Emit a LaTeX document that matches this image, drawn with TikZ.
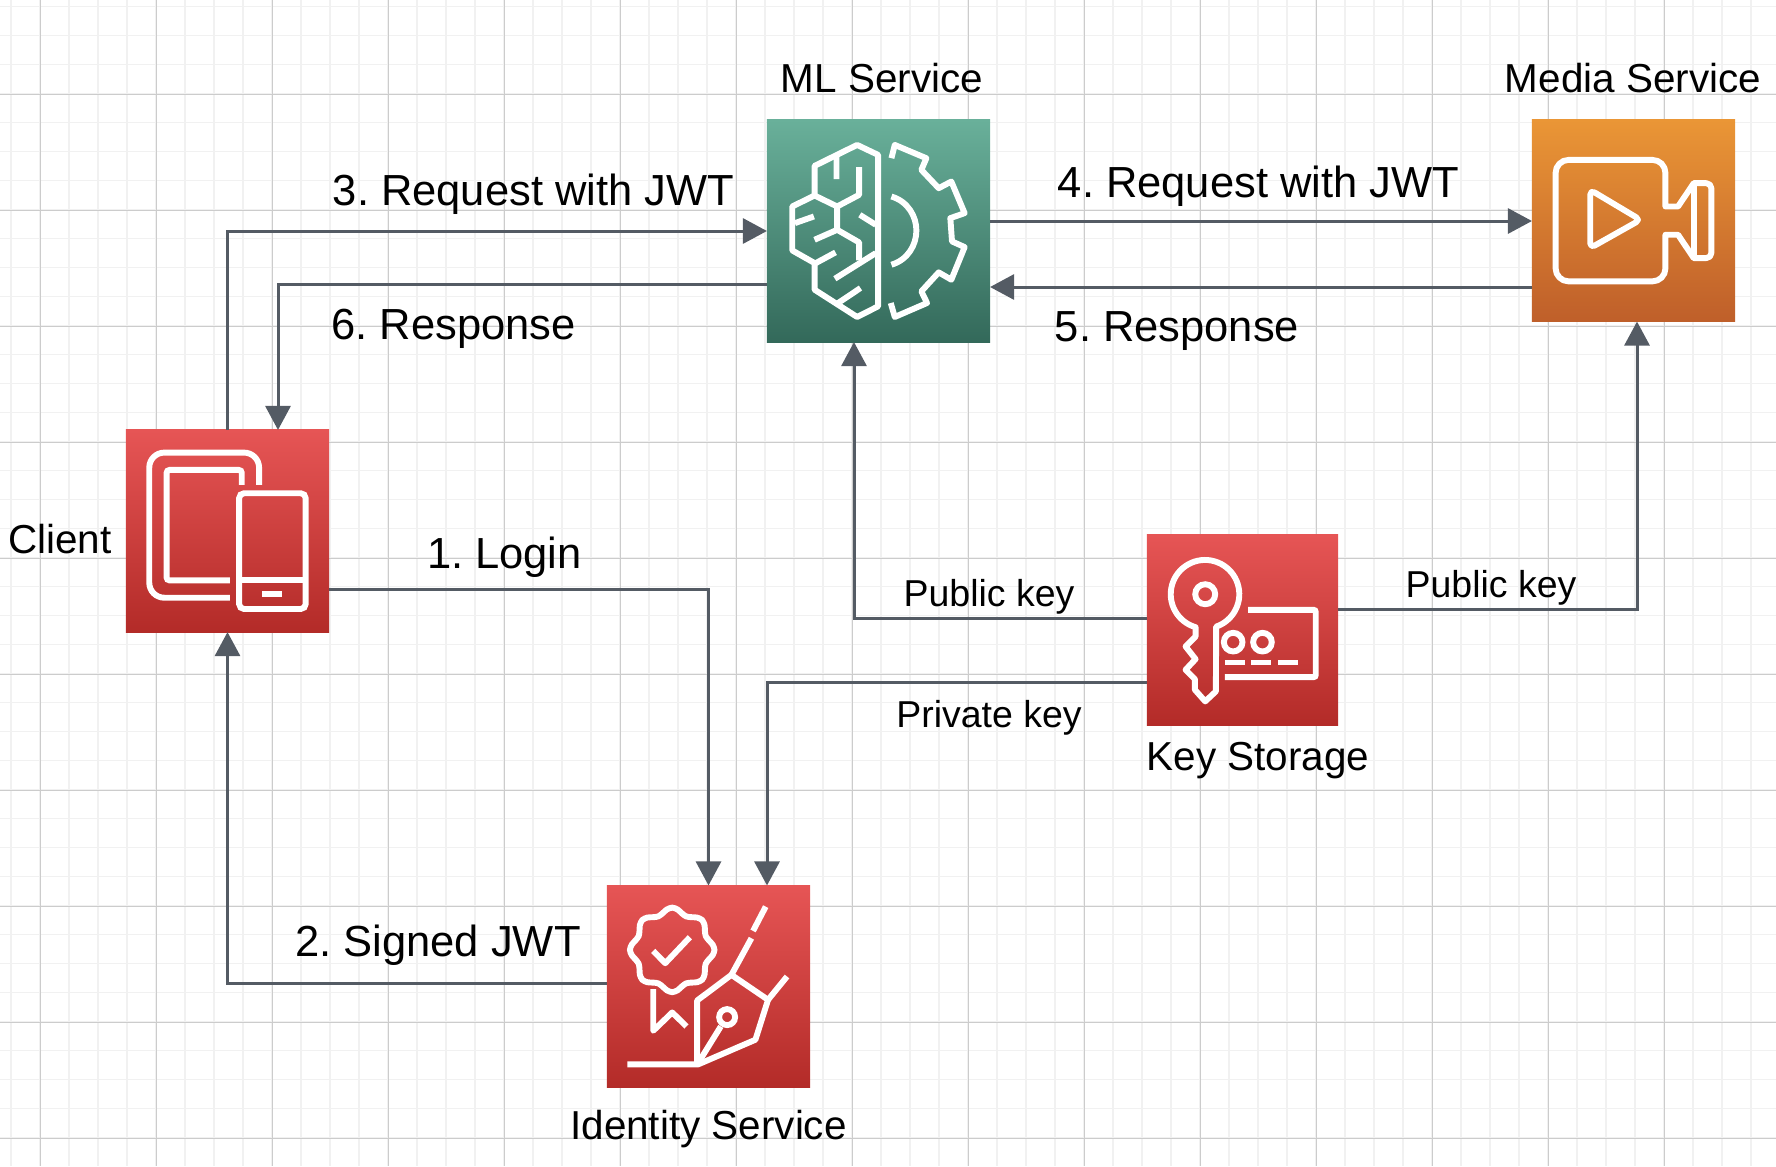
\documentclass[tikz,border=0pt]{standalone}
\usepackage{fontspec}
\setmainfont{Liberation Sans}
\usetikzlibrary{arrows.meta,calc}
\frenchspacing

\definecolor{gridminor}{HTML}{F1F1F1}
\definecolor{gridmajor}{HTML}{CCCCCC}
\definecolor{flowgray}{HTML}{545B64}
\definecolor{RedTop}{HTML}{E65555}
\definecolor{RedBottom}{HTML}{B32B28}
\definecolor{MlTop}{HTML}{69B09A}
\definecolor{MlBottom}{HTML}{33695A}
\definecolor{MediaTop}{HTML}{EA9636}
\definecolor{MediaBottom}{HTML}{BF5F2A}

\tikzset{
  service/.style={inner sep=0pt, outer sep=0pt},
  redbox/.style={service, top color=RedTop, bottom color=RedBottom},
  flowline/.style={draw=flowgray, line width=0.03cm, -{Triangle[length=0.24cm,width=0.25cm]}},
  glyph/.style={draw=white, line width=0.059cm},
  biglabel/.style={anchor=base, font=\fontsize{12.37}{15}\selectfont},
  namelabel/.style={anchor=base, font=\fontsize{11.5}{14}\selectfont},
  keylabel/.style={anchor=base, font=\fontsize{10.65}{13}\selectfont}
}

\begin{document}
\begin{tikzpicture}[x=0.01cm,y=-0.01cm]
\useasboundingbox (0,0) rectangle (1776,1166);

% paper grid
\foreach \gx in {11,40,...,1776} \draw[gridminor, line width=0.017cm] (\gx,0) -- (\gx,1166);
\foreach \gy in {6.5,35.5,...,1166} \draw[gridminor, line width=0.017cm] (0,\gy) -- (1776,\gy);
\foreach \gx in {40.5,156.5,...,1776} \draw[gridmajor, line width=0.011cm] (\gx,0) -- (\gx,1166);
\foreach \gy in {94.5,210.5,...,1166} \draw[gridmajor, line width=0.011cm] (0,\gy) -- (1776,\gy);

% services
\node[redbox, minimum width=2.03cm, minimum height=2.02cm] (client) at (227.5,531) {};
\node[service, top color=MlTop, bottom color=MlBottom, minimum width=2.23cm, minimum height=2.22cm] (ml) at (878.5,231) {};
\node[service, top color=MediaTop, bottom color=MediaBottom, minimum width=2.03cm, minimum height=2.02cm] (media) at (1633.5,220.5) {};
\node[redbox, minimum width=1.91cm, minimum height=1.90cm] (keys) at (1242.5,630) {};
\node[redbox, minimum width=2.03cm, minimum height=2.02cm] (identity) at (708.5,986.5) {};

% client icon
\begin{scope}[shift={(110,410)},x=0.00333cm,y=-0.00333cm]
\draw[glyph, rounded corners=0.15cm] (448,225) -- (448,128) -- (118,128) -- (118,564) -- (360,564);
\draw[glyph, rounded corners=0.03cm] (396,225) -- (396,180) -- (170,180) -- (170,512) -- (360,512);
\draw[glyph, rounded corners=0.05cm] (388,250) rectangle (588,598);
\draw[glyph] (388,510) -- (588,510) (458,554) -- (517,554);
\end{scope}

% ml icon
\begin{scope}[shift={(740,90)},x=0.00333cm,y=-0.00333cm]
\draw[glyph, line join=round] (415,195) -- (352,165) -- (224,228) -- (224,317) -- (157,350) -- (157,482) -- (224,520) -- (224,600) -- (352,682) -- (415,650) -- cycle;
\draw[glyph, line join=round] (290,200) -- (290,268) (358,232) -- (358,315) -- (292,350) -- (224,317) (292,350) -- (292,420);
\draw[glyph, line join=round] (224,450) -- (292,420) -- (358,458) -- (358,512);
\draw[glyph] (165,400) -- (222,380) (360,375) -- (408,405) (228,520) -- (287,488) (285,567) -- (408,490) (295,640) -- (362,595);
\draw[glyph, line join=round] (455,205) -- (465,165) -- (560,205) -- (545,240) -- (597,295) -- (635,275) -- (675,370) -- (632,385) -- (637,455) -- (675,472) -- (635,570) -- (597,548) -- (545,605) -- (562,640) -- (465,682) -- (453,640);
\draw[glyph] (455,320) .. controls (505,335) and (530,380) .. (530,422) .. controls (530,465) and (505,510) .. (455,525);
\end{scope}

% media icon
\begin{scope}[shift={(1510,90)},x=0.00333cm,y=-0.00333cm]
\draw[glyph, line join=round] (467,350) [rounded corners=0.13cm] -- (467,210) -- (137,210) -- (137,575) -- (467,575) [sharp corners] -- (467,435) -- (505,435) -- (552,505) [rounded corners=0.05cm] -- (605,505) -- (605,280) [sharp corners] -- (552,280) -- (505,350) -- cycle;
\draw[glyph] (553,280) -- (553,505);
\draw[glyph, line join=round, rounded corners=0.05cm] (241,300) -- (392,390) -- (241,475) -- cycle;
\end{scope}

% key icon
\begin{scope}[shift={(1130,520)},x=0.00333cm,y=-0.00333cm]
\draw[glyph, line join=round] (197,322) arc[start angle=106, end angle=431, radius=103] -- (258,515) -- (226,545) -- (195,510) -- (195,478) -- (167,450) -- (197,418) -- (167,380) -- (197,350) -- cycle;
\draw[glyph] (226,223) circle[radius=30];
\draw[glyph] (310,367) circle[radius=28] (398,367) circle[radius=28];
\draw[glyph, rounded corners=0.02cm] (355,270) -- (558,270) -- (558,472) -- (285,472);
\draw[glyph] (285,428) -- (345,428) (364,428) -- (425,428) (445,428) -- (505,428);
\end{scope}

% identity icon
\begin{scope}[shift={(590,870)},x=0.00333cm,y=-0.00333cm]
\draw[glyph] plot[smooth cycle, domain=0:352.5, samples=48] ({247+(118+9*cos(8*\x))*cos(\x)},{240+(118+9*cos(8*\x))*sin(\x)});
\draw[glyph, line join=round] (190,243) -- (226,280) -- (300,202);
\draw[glyph, line join=round] (190,358) -- (190,483) -- (247,428) -- (290,470);
\draw[glyph, line join=round] (112,584) -- (325,584) -- (497,510) -- (535,390) -- (425,315) -- (322,392) -- (322,584);
\draw[glyph] (325,580) -- (393,470);
\draw[glyph] (412,442) circle[radius=24];
\draw[glyph] (425,315) -- (485,205) (490,183) -- (528,110) (535,390) -- (592,320);
\end{scope}

% connectors
\draw[flowline] (client.north) |- (ml.west);
\draw[flowline] ($(ml.west)+(0,53)$) -| ($(client.north)+(50.5,0)$);
\draw[flowline] ($(ml.east)+(0,-10)$) -- (media.west |- 0,221);
\draw[flowline] ($(media.west)+(0,66.5)$) -- (ml.east |- 0,287);
\draw[flowline] (client.east |- 0,589) -| (identity.north);
\draw[flowline] ($(identity.west)+(0,-3.5)$) -| (client.south);
\draw[flowline] (keys.west |- 0,618) -| (ml.south -| 854,0);
\draw[flowline] (keys.west |- 0,682) -| ($(identity.north)+(58.5,0)$);
\draw[flowline] (keys.east |- 0,609) -| ($(media.south)+(3.5,0)$);

% labels
\node[biglabel] (req3) at (533.5,205) {3. Request with JWT};
\node[biglabel] (res6) at (453.5,339) {6. Response};
\node[biglabel] (req4) at (1258.5,197) {4. Request with JWT};
\node[biglabel] (res5) at (1177,341) {5. Response};
\node[biglabel] (login) at (504.5,568) {1. Login};
\node[biglabel] (signed) at (438,956) {2. Signed JWT};
\node[namelabel] (mlname) at (882,92) {ML Service};
\node[namelabel] (medianame) at (1633,92) {Media Service};
\node[namelabel] (clientname) at (60,553) {Client};
\node[namelabel] (keysname) at (1258,770.5) {Key Storage};
\node[namelabel] (identityname) at (708.5,1139) {Identity Service};
\node[keylabel] (publeft) at (989,606) {Public key};
\node[keylabel] (pubright) at (1491,597) {Public key};
\node[keylabel] (private) at (989,727) {Private key};
\end{tikzpicture}
\end{document}
